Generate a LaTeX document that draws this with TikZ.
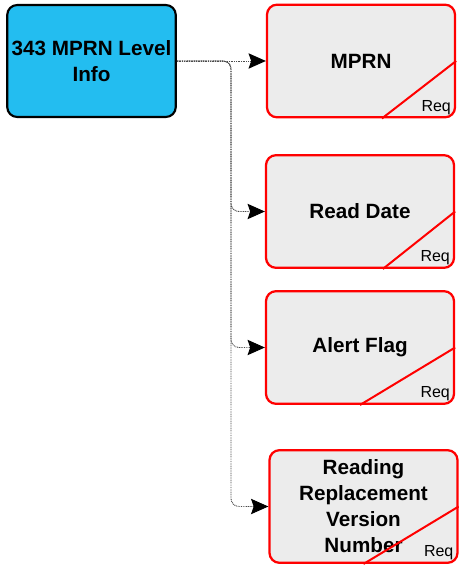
\documentclass[tikz,border=0pt]{standalone}
\usepackage{fontspec}
\setmainfont{Liberation Sans}
\usepackage{tikz}
\usetikzlibrary{arrows.meta, calc}

\definecolor{rootblue}{RGB}{35,189,240}
\definecolor{boxgray}{RGB}{236,236,236}

\tikzset{
	rootbox/.style={draw=black, line width=1.6pt, fill=rootblue, rounded corners=7.5pt,
		minimum width=125pt, minimum height=84pt, align=center,
		font=\bfseries\fontsize{15.5}{19.5}\selectfont},
	itembox/.style={draw=red, line width=1.7pt, fill=boxgray, rounded corners=7.5pt,
		minimum width=141pt, minimum height=84.5pt, align=center,
		font=\bfseries\fontsize{15.5}{19.5}\selectfont},
	reqline/.style={draw=red, line width=1.5pt},
	reqtext/.style={font=\fontsize{12}{14}\selectfont, inner sep=0pt, anchor=base east},
	link/.style={black!70, line width=0.7pt, dash pattern=on 0.7pt off 0.6pt,
		rounded corners=6pt, -{Stealth[length=13pt, width=11.5pt, inset=2pt, sep=0pt, black]}}
}

\begin{document}
\begin{tikzpicture}[x=0.75pt, y=-0.75pt]
	\useasboundingbox (0,0) rectangle (458,566);
	\node[rootbox] (root) at (91.5,61) {343 MPRN Level\\Info};
	\node[itembox] (mprn) at (361,61) {MPRN};
	\node[itembox] (rdate) at (360,211.5) {Read Date};
	\node[itembox] (aflag) at (360,347.5) {Alert Flag};
	\node[itembox] (rrvn) at (363.5,506.5) {Reading\\Replacement\\Version\\Number};
	% corner marks
	\foreach \n/\f in {mprn/0.61, rdate/0.62, aflag/0.5, rrvn/0.5} {
		\draw[reqline] ($(\n.south west)!\f!(\n.south east)$) -- (\n.east);
		\node[reqtext] (\n req) at ($(\n.south east)+(-5,-7)$) {Req};
	}
	% connectors
	\coordinate (bend) at (231,61);
	\draw[link] (root.east) -- (mprn.west);
	\draw[link] (root.east) -- (bend) |- (rdate.west);
	\draw[link] (root.east) -- (bend) |- (aflag.west);
	\draw[link] (root.east) -- (bend) |- (rrvn.west);
\end{tikzpicture}
\end{document}
